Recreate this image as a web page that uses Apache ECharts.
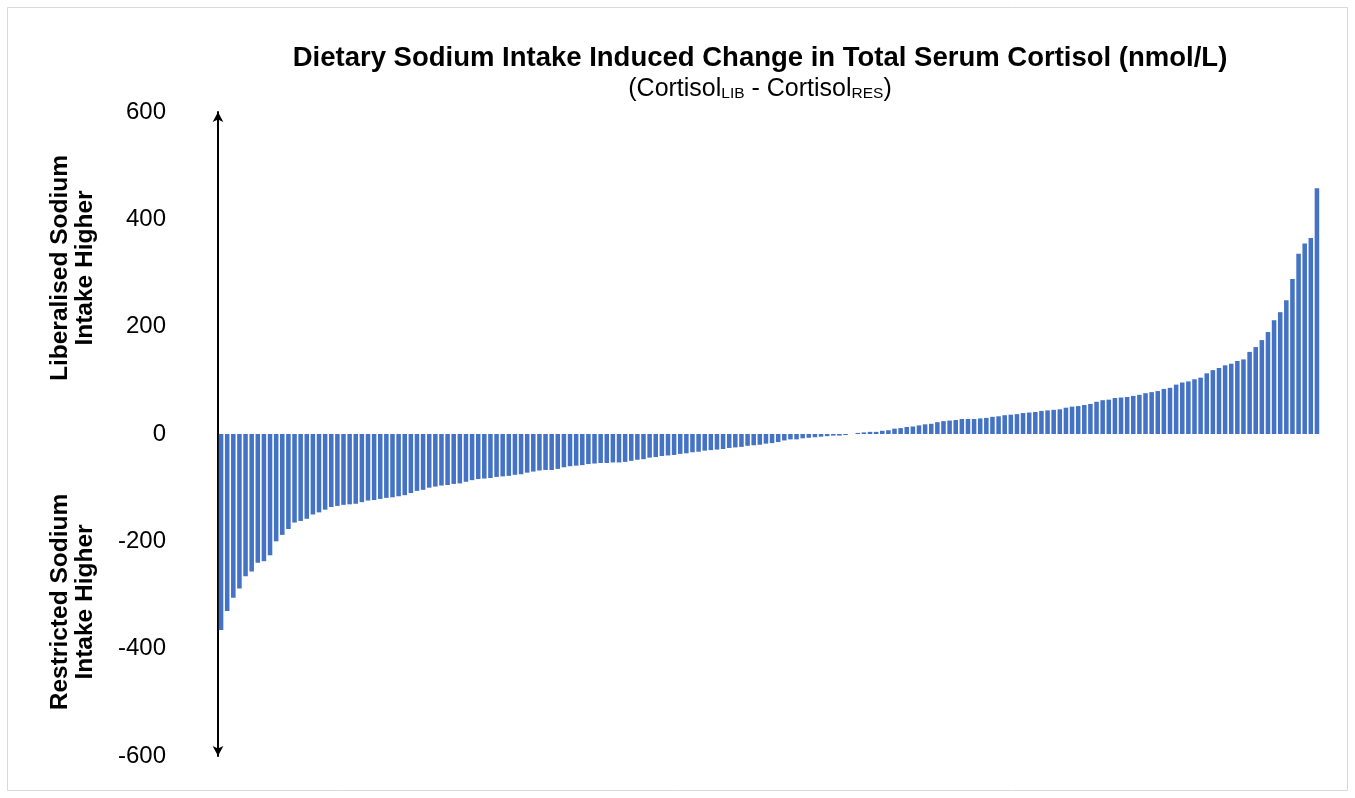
<!DOCTYPE html>
<html>
<head>
<meta charset="utf-8">
<title>Dietary Sodium Intake Induced Change in Total Serum Cortisol</title>
<script src="https://cdn.jsdelivr.net/npm/echarts@6/dist/echarts.min.js"></script>
<style>
  html, body { margin: 0; padding: 0; background: #ffffff; }
  #chart { width: 1355px; height: 798px; }
</style>
</head>
<body>
<div id="chart"></div>
<script>
// Per-participant change in total serum cortisol (nmol/L), liberalised minus restricted, sorted ascending
const cortisolChange = [
  -365, -330, -305, -288, -265, -256, -240, -237, -226, -200,
  -188, -177, -165, -162, -158, -150, -146, -141, -136, -134,
  -132, -131, -130, -127, -124, -123, -121, -119, -118, -116,
  -114, -110, -106, -104, -100, -98, -96, -95, -93, -92,
  -89, -86, -84, -83, -82, -80, -79, -78, -76, -75,
  -72, -70, -68, -67, -67, -65, -62, -60, -59, -58,
  -56, -55, -54, -54, -53, -53, -52, -50, -48, -47,
  -44, -43, -41, -40, -39, -37, -36, -34, -33, -31,
  -30, -29, -28, -26, -25, -24, -22, -21, -20, -18,
  -17, -15, -12, -10, -10, -8, -7, -6, -5, -4,
  -3, -3, -2, 0, 2, 3, 4, 4, 6, 7,
  10, 11, 13, 14, 16, 18, 19, 22, 24, 25,
  26, 28, 28, 28, 29, 30, 32, 33, 35, 36,
  37, 39, 40, 41, 43, 44, 45, 46, 49, 51,
  52, 54, 56, 60, 63, 64, 67, 68, 69, 71,
  73, 76, 78, 80, 84, 86, 92, 96, 98, 102,
  105, 113, 119, 123, 128, 131, 136, 139, 153, 162,
  175, 190, 212, 227, 249, 289, 336, 355, 365, 458
];

// One category per participant
const participants = cortisolChange.map((_, i) => 'P' + (i + 1));

// Value axis range and step
const yMin = -600;
const yMax = 600;
const yStep = 200;

const titleText = 'Dietary Sodium Intake Induced Change in Total Serum Cortisol (nmol/L)';
const upperSideLabel = 'Liberalised Sodium\nIntake Higher';
const lowerSideLabel = 'Restricted Sodium\nIntake Higher';

const FONT = '"Liberation Sans", Arial, sans-serif';

const chart = echarts.init(document.getElementById('chart'), null, { renderer: 'canvas' });

chart.setOption({
  animation: false,
  backgroundColor: '#ffffff',
  grid: { left: 218, right: 35, top: 112, bottom: 42, containLabel: false },
  xAxis: {
    type: 'category',
    data: participants,
    boundaryGap: true,
    axisLine: { show: false },
    axisTick: { show: false },
    axisLabel: { show: false },
    splitLine: { show: false }
  },
  yAxis: {
    type: 'value',
    min: yMin,
    max: yMax,
    interval: yStep,
    axisLine: {
      show: true,
      onZero: false,
      lineStyle: { color: '#000000', width: 2 },
      symbol: ['arrow', 'arrow'],
      symbolSize: [8, 10]
    },
    axisTick: { show: false },
    splitLine: { show: false },
    axisLabel: {
      margin: 52,
      color: '#000000',
      fontFamily: FONT,
      fontSize: 24
    }
  },
  series: [{
    type: 'bar',
    data: cortisolChange,
    barCategoryGap: '26%',
    itemStyle: { color: '#4472C4' }
  }],
  graphic: [
    {
      type: 'rect',
      shape: { x: 7.5, y: 7.5, width: 1340, height: 783 },
      style: { fill: 'none', stroke: '#D9D9D9', lineWidth: 1 },
      silent: true
    },
    {
      type: 'text',
      x: 760, y: 58,
      style: {
        text: titleText,
        font: 'bold 27.5px ' + FONT,
        fill: '#000000',
        align: 'center',
        verticalAlign: 'middle'
      }
    },
    {
      type: 'text',
      x: 760, y: 89,
      style: {
        text: '{m|(Cortisol}{s|LIB}{m| - Cortisol}{s|RES}{m|)}',
        align: 'center',
        verticalAlign: 'middle',
        rich: {
          m: { fontFamily: FONT, fontSize: 25, lineHeight: 30, fill: '#000000', verticalAlign: 'middle' },
          s: { fontFamily: FONT, fontSize: 15.5, lineHeight: 30, fill: '#000000', verticalAlign: 'bottom', padding: [0, 0, 2, 0] }
        }
      }
    },
    {
      type: 'text',
      x: 73, y: 268,
      rotation: Math.PI / 2,
      style: {
        text: upperSideLabel,
        font: 'bold 24.5px ' + FONT,
        lineHeight: 25,
        fill: '#000000',
        align: 'center',
        verticalAlign: 'middle'
      }
    },
    {
      type: 'text',
      x: 73, y: 602,
      rotation: Math.PI / 2,
      style: {
        text: lowerSideLabel,
        font: 'bold 24.5px ' + FONT,
        lineHeight: 25,
        fill: '#000000',
        align: 'center',
        verticalAlign: 'middle'
      }
    }
  ]
});
</script>
</body>
</html>
